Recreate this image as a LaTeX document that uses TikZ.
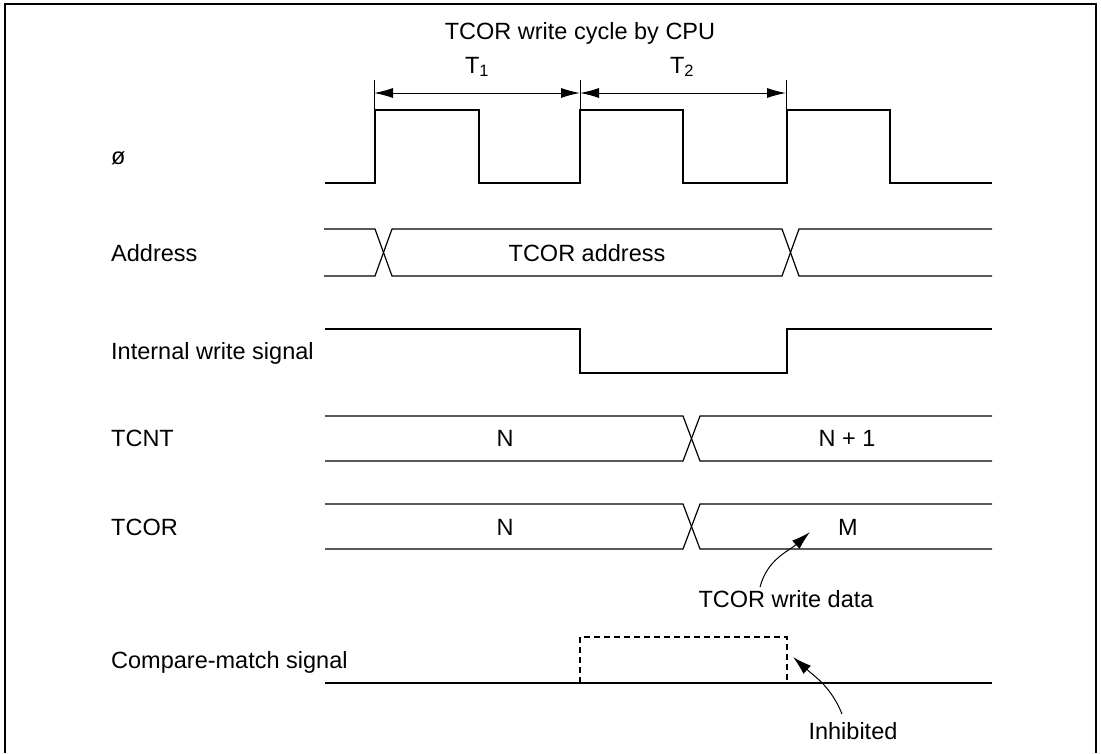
\documentclass[tikz,border=0pt]{standalone}
\usepackage{fontspec}
\setmainfont{Liberation Sans}
\usetikzlibrary{arrows.meta}
\begin{document}
\begin{tikzpicture}[x=1pt,y=-1pt,
  sig/.style={line width=1.2pt, line join=miter},
  lbl/.style={font=\fontsize{23.5}{27}\selectfont, inner sep=0pt},
  sidelbl/.style={lbl, anchor=west},
  dim/.style={line width=1pt, {Latex[length=19pt,width=10pt]}-{Latex[length=19pt,width=10pt]}},
  pointer/.style={line width=1pt, -{Latex[length=19pt,width=11pt]}},
]
\useasboundingbox (0,0) rectangle (1101,753);
% frame
\draw[line width=1.3pt] (5,753) -- (5,4) -- (1096,4) -- (1096,753);

% title and period marks
\node[lbl] (title) at (580,33) {TCOR write cycle by CPU};
\coordinate (t0) at (374,93);
\coordinate (t1) at (580,93);
\coordinate (t2) at (786,93);
\draw[line width=1pt] (374,80) -- (374,112);
\draw[line width=1pt] (580,80) -- (580,112);
\draw[line width=1pt] (786,80) -- (786,112);
\draw[dim] (t0) -- (t1);
\draw[dim] (t1) -- (t2);
\node[lbl] (T1) at (477,67) {T\textsubscript{1}};
\node[lbl] (T2) at (682,67) {T\textsubscript{2}};

% clock
\node[sidelbl] (phi) at (111,158) {ø};
\draw[sig] (325,183) -- (375,183) -- (375,110) -- (479,110) -- (479,183) -- (580,183) -- (580,110)
  -- (683,110) -- (683,183) -- (787,183) -- (787,110) -- (890,110) -- (890,183) -- (992,183);

% address
\node[sidelbl] (addr) at (111,253) {Address};
\draw[sig] (324,229) -- (375,229) -- (392,276) -- (782,276) -- (799,229) -- (992,229);
\draw[sig] (324,276) -- (375,276) -- (392,229) -- (782,229) -- (799,276) -- (992,276);
\node[lbl] (addrtxt) at (587,253) {TCOR address};

% internal write
\node[sidelbl] (iw) at (111,353) {Internal write signal};
\draw[sig] (325,329) -- (580,329) -- (580,373) -- (787,373) -- (787,329) -- (992,329);

% TCNT
\node[sidelbl] (tcnt) at (111,438) {TCNT};
\draw[sig] (325,416) -- (683,416) -- (700,461) -- (992,461);
\draw[sig] (325,461) -- (683,461) -- (700,416) -- (992,416);
\node[lbl] (tcntN) at (505,438) {N};
\node[lbl] (tcntN1) at (847,438) {N + 1};

% TCOR
\node[sidelbl] (tcor) at (111,527) {TCOR};
\draw[sig] (325,504) -- (683,504) -- (700,549) -- (992,549);
\draw[sig] (325,549) -- (683,549) -- (700,504) -- (992,504);
\node[lbl] (tcorN) at (505,527) {N};
\node[lbl] (tcorM) at (848,527) {M};
\node[lbl] (wdata) at (786,599) {TCOR write data};
\coordinate (wtip) at (810,532);
\draw[pointer] (760,587) to[out=75,in=222] (wtip);

% compare match
\node[sidelbl] (cm) at (111,662) {Compare-match signal};
\draw[sig] (325,683) -- (992,683);
\draw[line width=1.1pt, dash pattern=on 6pt off 4pt] (580,683) -- (580,637) -- (787,637) -- (787,683);
\node[lbl] (inh) at (853,731) {Inhibited};
\coordinate (itip) at (793,657);
\draw[pointer] (842,714) to[out=112,in=-42] (itip);
\end{tikzpicture}
\end{document}
